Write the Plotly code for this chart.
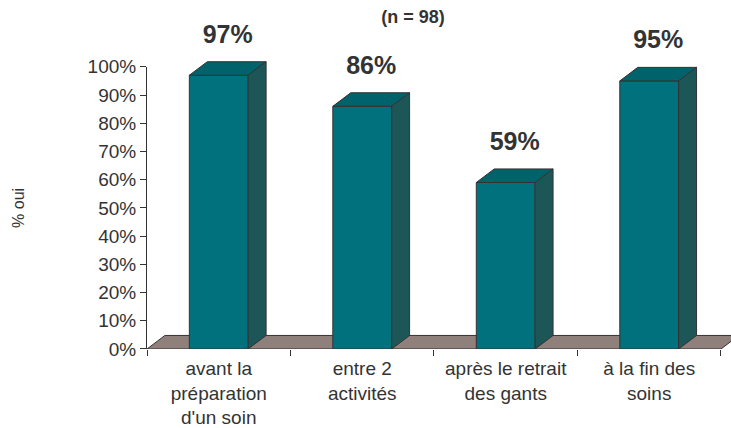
import plotly.graph_objects as go

# ---- data ----
categories = ["avant la<br>préparation<br>d'un soin", "entre 2<br>activités",
              "après le retrait<br>des gants", "à la fin des<br>soins"]
values = [97, 86, 59, 95]
value_labels = ["97%", "86%", "59%", "95%"]
y_tick_vals = [0, 10, 20, 30, 40, 50, 60, 70, 80, 90, 100]
y_tick_text = ["0%", "10%", "20%", "30%", "40%", "50%", "60%", "70%", "80%", "90%", "100%"]
subtitle = "(n = 98)"
y_title = "% oui"

# ---- style ----
FONT = "Liberation Sans, Arial, sans-serif"
TXT = "#333333"
EDGE = "#333333"
FRONT = "#00717D"
TOP = "#00626A"
SIDE = "#1D5657"
FLOOR = "#8F807C"
DX = 0.125      # depth offset, category units
DY = 4.8        # depth offset, % units
BW = 0.41       # bar front width
Y2MAX = 118.0
XMAX = 3.57
LABEL_OFF = 13.8

fig = go.Figure()

n = len(categories)
xs = list(range(n))

# invisible trace so that the visible percentage axis is drawn
fig.add_trace(go.Scatter(x=[None], y=[None], mode="markers", yaxis="y",
                         hoverinfo="skip", showlegend=False))

# floor
fig.add_trace(go.Scatter(
    x=[-0.5, n - 0.5, n - 0.5 + DX, -0.5 + DX, -0.5],
    y=[0, 0, DY, DY, 0],
    mode="lines", fill="toself", fillcolor=FLOOR,
    line=dict(color=EDGE, width=1), yaxis="y2",
    hoverinfo="skip", showlegend=False))

for i, v in zip(xs, values):
    l, r = i - BW / 2, i + BW / 2
    # front
    fig.add_trace(go.Scatter(
        x=[l, r, r, l, l], y=[0, 0, v, v, 0],
        mode="lines", fill="toself", fillcolor=FRONT,
        line=dict(color=EDGE, width=1), yaxis="y2",
        hoverinfo="skip", showlegend=False))
    # top
    fig.add_trace(go.Scatter(
        x=[l, r, r + DX, l + DX, l], y=[v, v, v + DY, v + DY, v],
        mode="lines", fill="toself", fillcolor=TOP,
        line=dict(color=EDGE, width=1), yaxis="y2",
        hoverinfo="skip", showlegend=False))
    # side
    fig.add_trace(go.Scatter(
        x=[r, r + DX, r + DX, r, r], y=[0, DY, v + DY, v, 0],
        mode="lines", fill="toself", fillcolor=SIDE,
        line=dict(color=EDGE, width=1), yaxis="y2",
        hoverinfo="skip", showlegend=False))

# value labels
fig.add_trace(go.Scatter(
    x=[i + DX / 2 for i in xs], y=[v + LABEL_OFF for v in values],
    mode="text", text=value_labels,
    textfont=dict(family=FONT, size=25, color=TXT, weight="bold"),
    cliponaxis=False, yaxis="y2", hoverinfo="skip", showlegend=False))

fig.update_layout(
    width=731, height=428,
    margin=dict(l=147, r=0, t=16, b=79),
    paper_bgcolor="white", plot_bgcolor="white",
    font=dict(family=FONT, color=TXT),
    showlegend=False,
    title=dict(text="<b>" + subtitle + "</b>", xref="container", yref="container",
               x=413 / 731, y=1 - 17 / 428, xanchor="center", yanchor="middle",
               font=dict(family=FONT, size=18, color=TXT)),
    xaxis=dict(range=[-0.5, XMAX], tickmode="array", tickvals=xs, ticktext=categories,
               ticks="", showline=False, showgrid=False, zeroline=False,
               ticklabelstandoff=6,
               tickfont=dict(family=FONT, size=19, color=TXT),
               minor=dict(tickmode="array", tickvals=[i - 0.5 for i in range(n + 1)],
                          ticks="outside", ticklen=6, tickcolor=EDGE, tickwidth=1,
                          showgrid=False)),
    yaxis=dict(domain=[0, 100 / Y2MAX], range=[0, 100], tickmode="array",
               tickvals=y_tick_vals, ticktext=y_tick_text,
               ticks="outside", ticklen=6, tickcolor=EDGE, tickwidth=1,
               showline=True, linecolor=EDGE, linewidth=1,
               showgrid=False, zeroline=False,
               tickfont=dict(family=FONT, size=19, color=TXT),
               title=dict(text=y_title, standoff=58,
                          font=dict(family=FONT, size=16, color=TXT))),
    yaxis2=dict(domain=[0, 1], range=[0, Y2MAX], visible=False, anchor="x"),
)

fig.write_html("out.html")
